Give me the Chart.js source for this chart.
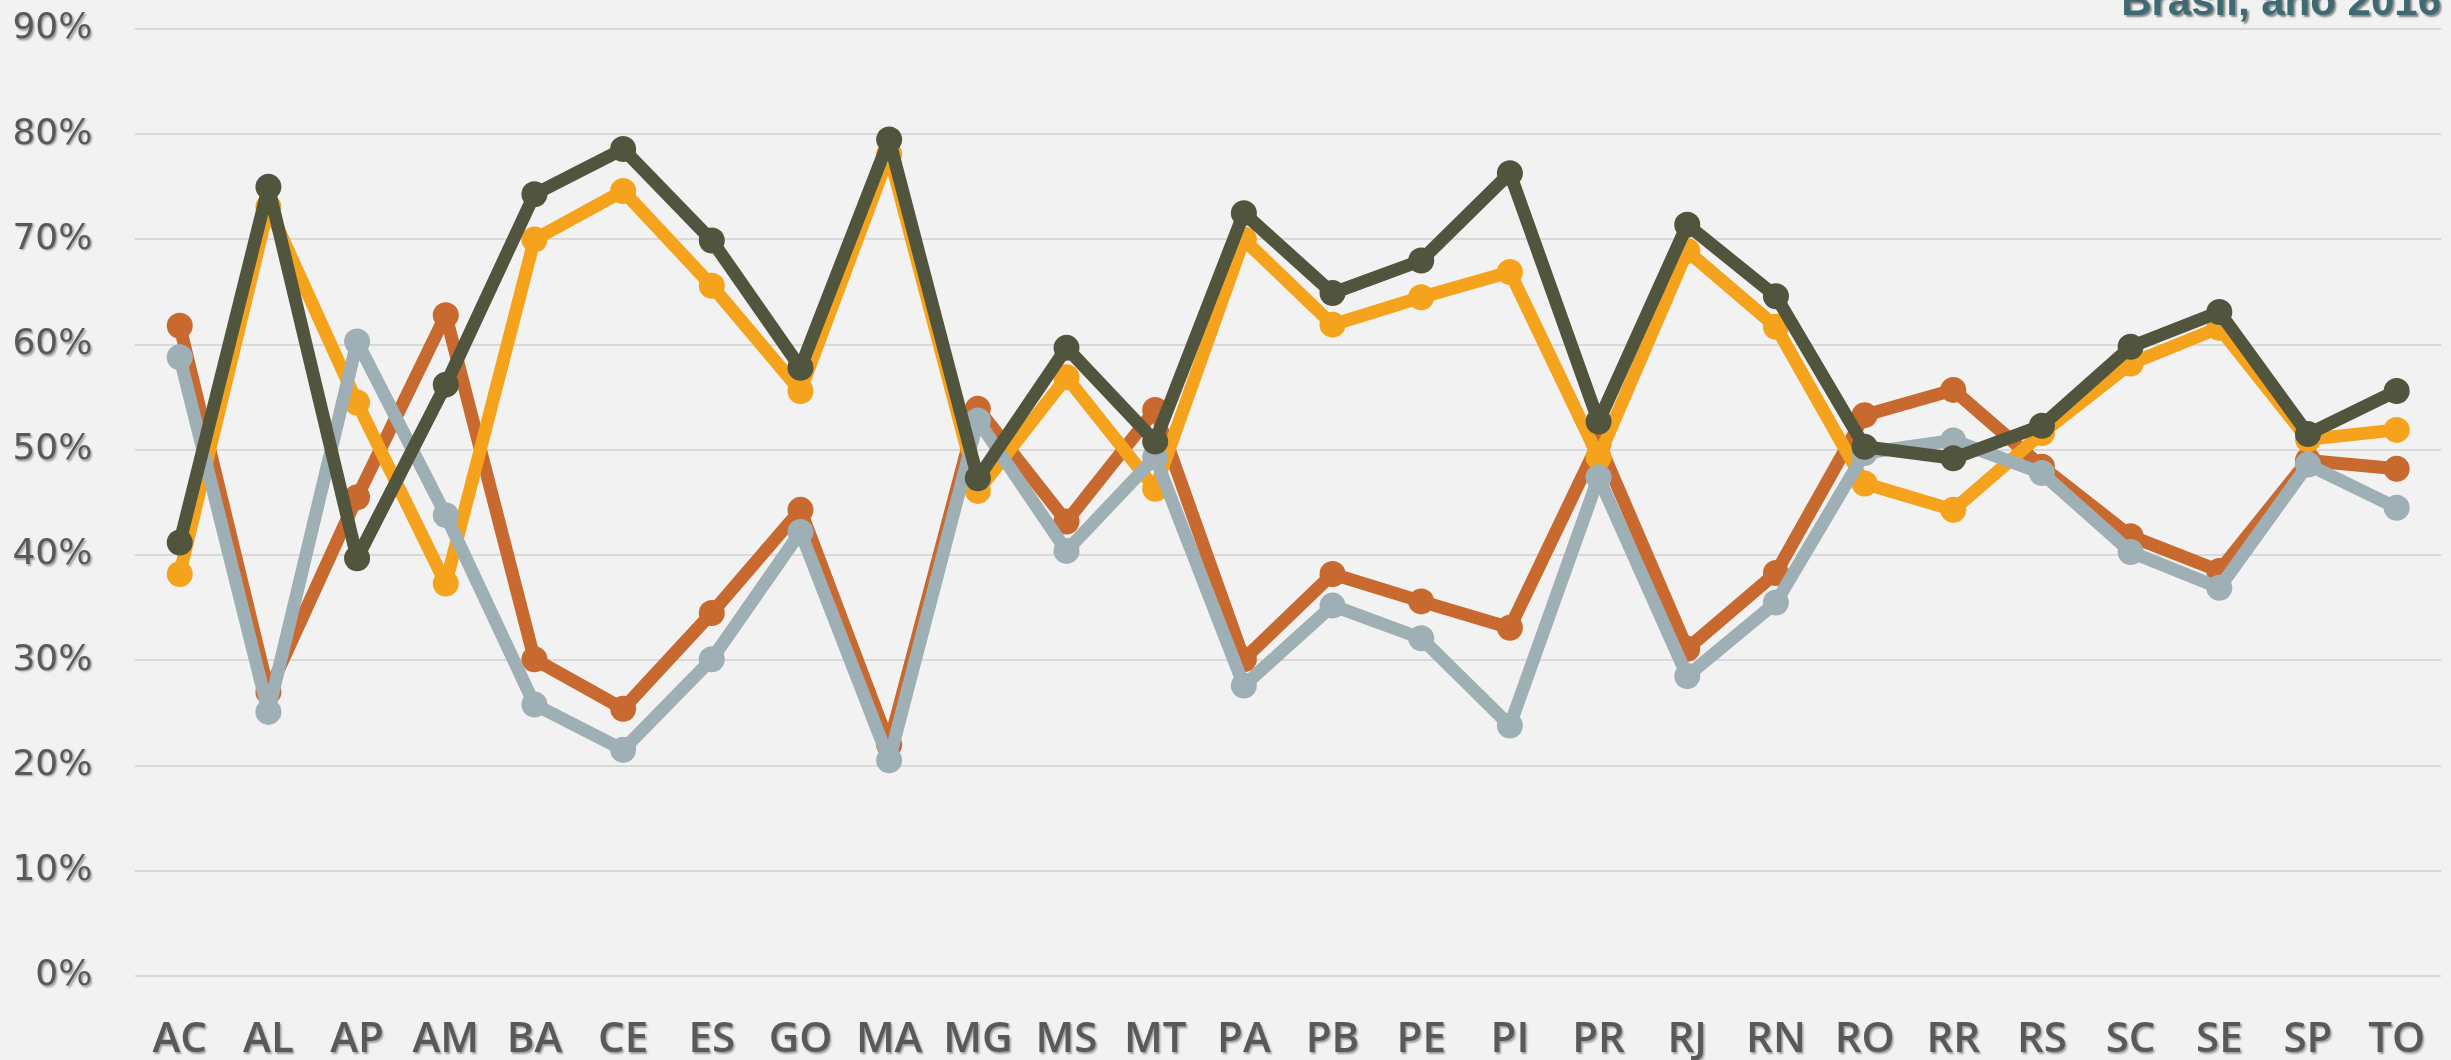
<!DOCTYPE html>
<html>
<head>
<meta charset="utf-8">
<title>Brasil, ano 2016</title>
<script src="https://cdn.jsdelivr.net/npm/chart.js@4.4.1/dist/chart.umd.min.js"></script>
<style>
    html, body { margin: 0; padding: 0; background: #F2F2F2; overflow: hidden; }
    #wrap { width: 2454px; height: 1060px; }
</style>
</head>
<body>
<div id="wrap"><canvas id="ufChart" width="2454" height="1060"></canvas></div>
<script>
const ufs = ['AC', 'AL', 'AP', 'AM', 'BA', 'CE', 'ES', 'GO', 'MA', 'MG', 'MS', 'MT', 'PA',
             'PB', 'PE', 'PI', 'PR', 'RJ', 'RN', 'RO', 'RR', 'RS', 'SC', 'SE', 'SP', 'TO'];

// valores em %
const serieLaranja = [61.8, 27.0, 45.5, 62.8, 30.1, 25.4, 34.5, 44.3, 22.0, 53.9, 43.2, 53.8, 30.1,
                      38.2, 35.6, 33.1, 50.7, 31.1, 38.3, 53.3, 55.7, 48.4, 41.8, 38.5, 49.0, 48.2];
const serieAmarela = [38.2, 73.1, 54.5, 37.3, 70.0, 74.6, 65.6, 55.6, 78.1, 46.1, 56.9, 46.3, 70.0,
                      61.9, 64.5, 66.9, 49.3, 68.9, 61.7, 46.8, 44.3, 51.6, 58.2, 61.6, 51.0, 51.9];
const serieCinza   = [58.8, 25.1, 60.3, 43.8, 25.8, 21.5, 30.1, 42.2, 20.5, 52.8, 40.4, 49.3, 27.6,
                      35.2, 32.1, 23.8, 47.4, 28.5, 35.5, 49.7, 50.9, 47.8, 40.3, 36.9, 48.6, 44.5];
const serieEscura  = [41.2, 75.0, 39.7, 56.2, 74.3, 78.6, 69.9, 57.8, 79.5, 47.3, 59.7, 50.8, 72.5,
                      64.9, 68.0, 76.3, 52.7, 71.4, 64.6, 50.3, 49.2, 52.3, 59.8, 63.1, 51.5, 55.6];
const yTicks = [0, 10, 20, 30, 40, 50, 60, 70, 80, 90];
const titulo = 'Brasil, ano 2016';

function linha(label, data, cor, ordem) {
    return {
        label: label,
        data: data,
        borderColor: cor,
        backgroundColor: cor,
        pointBackgroundColor: cor,
        pointBorderColor: cor,
        borderWidth: 13,
        pointRadius: 13,
        pointBorderWidth: 0,
        tension: 0,
        borderJoinStyle: 'round',
        borderCapStyle: 'round',
        order: ordem
    };
}

// sombra leve nos textos, como no original
const sombraTexto = {
    id: 'sombraTexto',
    afterDatasetsDraw(chart) {
        const ctx = chart.ctx;
        ctx.save();
        ctx.shadowColor = 'rgba(0,0,0,0.35)';
        ctx.shadowOffsetX = 1.5;
        ctx.shadowOffsetY = 1.5;
        ctx.shadowBlur = 2;
    },
    afterDraw(chart) {
        const ctx = chart.ctx;
        ctx.font = 'bold 42px "Liberation Sans", Arial, sans-serif';
        ctx.fillStyle = '#3E6B73';
        ctx.textAlign = 'right';
        ctx.textBaseline = 'alphabetic';
        ctx.shadowColor = 'rgba(0,0,0,0.45)';
        ctx.shadowOffsetX = 2;
        ctx.shadowOffsetY = 2;
        ctx.shadowBlur = 2;
        ctx.fillText(titulo, 2441, 15);
        ctx.restore();
    }
};

document.addEventListener('DOMContentLoaded', function() {
    const ctx = document.getElementById('ufChart').getContext('2d');
    new Chart(ctx, {
        type: 'line',
        data: {
            labels: ufs,
            datasets: [
                linha('Série 1', serieLaranja, '#C8692F', 3),
                linha('Série 2', serieAmarela, '#F5A31D', 2),
                linha('Série 3', serieCinza, '#9EB0B5', 1),
                linha('Série 4', serieEscura, '#51553D', 0)
            ]
        },
        options: {
            responsive: false,
            animation: false,
            layout: { padding: { top: 29, left: 0, right: 0, bottom: 0 } },
            plugins: {
                legend: { display: false },
                tooltip: { enabled: false }
            },
            scales: {
                x: {
                    offset: true,
                    grid: { display: false, drawTicks: false },
                    border: { display: false },
                    afterFit: (scale) => {
                        scale.height = 84;
                        scale.paddingLeft = 0;
                        scale.paddingRight = 0;
                    },
                    ticks: {
                        color: '#595959',
                        padding: 39,
                        maxRotation: 0,
                        autoSkip: false,
                        z: 1,
                        font: { family: '"Open Sans", sans-serif', size: 42, weight: '600', lineHeight: 1.2 }
                    }
                },
                y: {
                    min: 0,
                    max: 90,
                    grid: { color: '#D9D9D9', lineWidth: 2, drawTicks: false },
                    border: { display: false },
                    afterFit: (scale) => {
                        scale.width = 135.4;
                        scale.paddingTop = 0;
                        scale.paddingBottom = 0;
                    },
                    afterBuildTicks: (scale) => { scale.ticks = yTicks.map(v => ({ value: v })); },
                    ticks: {
                        color: '#595959',
                        padding: 43,
                        z: 1,
                        font: { family: '"DejaVu Sans", sans-serif', size: 36, lineHeight: 1.2 },
                        callback: (v) => v + '%'
                    }
                }
            }
        },
        plugins: [sombraTexto]
    });
});
</script>
</body>
</html>
